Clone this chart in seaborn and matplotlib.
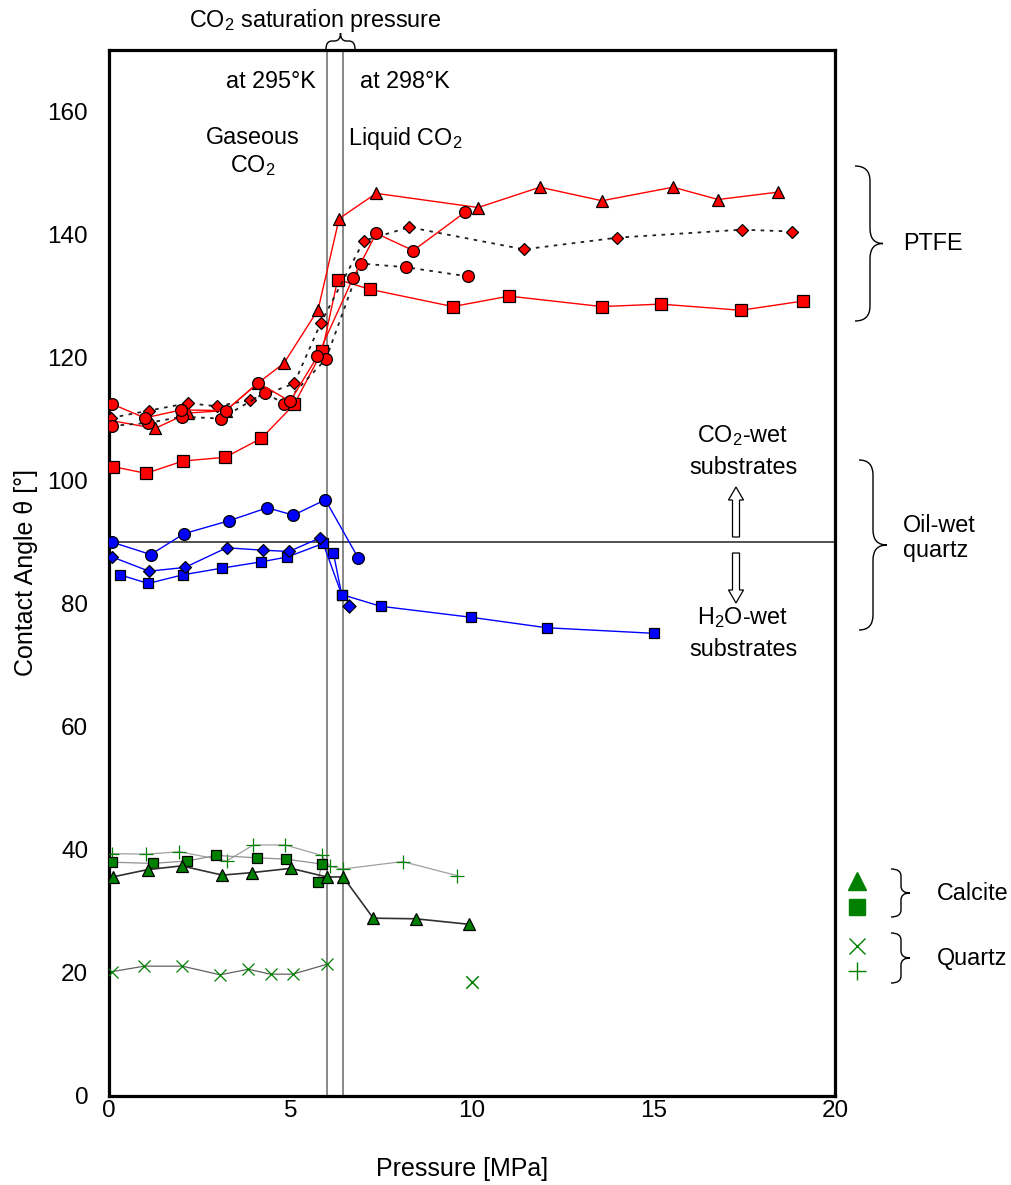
import numpy as np
import matplotlib
matplotlib.use("Agg")
import matplotlib.pyplot as plt
import seaborn as sns
from matplotlib.path import Path
from matplotlib.patches import PathPatch, FancyArrow
from matplotlib.transforms import Affine2D
from matplotlib.lines import Line2D

# ---------------- data: pressure [MPa] and contact angle [deg] ----------------
# PTFE
ptfe_tri_p = [0.03, 1.27, 2.18, 3.22, 4.11, 4.82, 5.76, 6.34, 7.36, 10.17, 11.87, 13.58, 15.54, 16.78, 18.43]
ptfe_tri_a = [109.8, 108.5, 111.0, 111.4, 115.9, 119.1, 127.8, 142.6, 146.7, 144.4, 147.7, 145.5, 147.7, 145.7, 146.9]

ptfe_sq_p = [0.10, 1.02, 2.04, 3.20, 4.20, 5.10, 5.87, 6.30, 7.19, 9.47, 11.02, 13.58, 15.20, 17.41, 19.12]
ptfe_sq_a = [102.3, 101.2, 103.2, 103.8, 106.9, 112.4, 121.0, 132.7, 131.1, 128.3, 130.0, 128.3, 128.7, 127.7, 129.2]

ptfe_dia_p = [0.05, 1.10, 2.17, 2.97, 3.88, 5.10, 5.84, 7.02, 8.27, 11.43, 14.00, 17.44, 18.82]
ptfe_dia_a = [110.2, 111.4, 112.6, 112.1, 113.1, 115.8, 125.7, 139.0, 141.2, 137.6, 139.5, 140.8, 140.5]

ptfe_circ1_p = [0.07, 0.99, 1.98, 3.22, 4.11, 4.99, 5.74, 6.72, 7.36, 8.38, 9.80]
ptfe_circ1_a = [112.5, 110.2, 111.5, 111.4, 115.9, 112.9, 120.2, 132.9, 140.2, 137.4, 143.6]

ptfe_circ2_p = [0.07, 1.08, 2.02, 3.08, 4.30, 4.82, 5.98, 6.93, 8.18, 9.89]
ptfe_circ2_a = [108.9, 109.4, 110.4, 110.1, 114.3, 112.5, 119.8, 135.3, 134.7, 133.2]

# Oil-wet quartz
oq_circ_p = [0.09, 1.15, 2.07, 3.31, 4.36, 5.08, 5.96, 6.86]
oq_circ_a = [90.0, 88.0, 91.4, 93.5, 95.6, 94.4, 96.9, 87.5]

oq_dia_p = [0.09, 1.10, 2.09, 3.24, 4.25, 4.96, 5.81, 6.62]
oq_dia_a = [87.6, 85.3, 85.9, 89.1, 88.7, 88.5, 90.7, 79.6]

oq_sq_p = [0.30, 1.08, 2.03, 3.12, 4.18, 4.91, 5.90, 6.41, 7.48, 9.98, 12.06, 15.00]
oq_sq_a = [84.7, 83.3, 84.7, 85.8, 86.8, 87.6, 89.8, 81.5, 79.6, 77.8, 76.1, 75.2]

oq_sq2_p = [6.18, 6.41]
oq_sq2_a = [88.3, 81.5]

# Calcite
calc_tri_p = [0.10, 1.07, 2.00, 3.12, 3.93, 5.01, 6.00, 6.45, 7.28, 8.45, 9.93]
calc_tri_a = [35.6, 36.8, 37.4, 35.9, 36.3, 37.0, 35.6, 35.6, 28.9, 28.8, 27.9]

calc_sq_p = [0.07, 1.20, 2.16, 2.95, 4.09, 4.87, 5.86, 5.75]
calc_sq_a = [38.0, 37.8, 38.2, 39.1, 38.7, 38.5, 37.7, 34.8]

# Quartz
qz_x_p = [0.07, 0.97, 2.02, 3.06, 3.84, 4.45, 5.06, 6.00, 9.99]
qz_x_a = [20.2, 21.1, 21.1, 19.7, 20.6, 19.8, 19.8, 21.4, 18.6]

qz_plus_p = [0.07, 1.02, 1.94, 3.24, 3.98, 4.85, 5.86, 6.09, 6.45, 8.09, 9.60]
qz_plus_a = [39.4, 39.3, 39.7, 38.2, 40.8, 40.8, 39.1, 37.3, 36.9, 38.1, 35.8]

# CO2 saturation pressures at 295 K and 298 K, and the 90 deg divide
sat_pressures = [6.0, 6.45]
neutral_angle = 90

x_ticks = [0, 5, 10, 15, 20]
y_ticks = [0, 20, 40, 60, 80, 100, 120, 140, 160]

# ---------------- style ----------------
sns.set_theme(style="white")
plt.rcParams["font.family"] = ["Liberation Sans", "DejaVu Sans"]
plt.rcParams["mathtext.fontset"] = "custom"
plt.rcParams["mathtext.rm"] = "Liberation Sans"
plt.rcParams["mathtext.it"] = "Liberation Sans:italic"
plt.rcParams["mathtext.bf"] = "Liberation Sans:bold"

W, H = 1012, 1185
fig = plt.figure(figsize=(W / 100, H / 100), dpi=100)
fig.patch.set_facecolor("white")
ax = fig.add_axes([109 / W, 1 - 1096 / H, 726 / W, 1046 / H])
ax.set_facecolor("white")

# pixel coordinates (origin top-left) for annotations around the axes
px = Affine2D().scale(1 / W, -1 / H).translate(0, 1) + fig.transFigure

RED, BLUE, GREEN = "#ff0000", "#0000ff", "#008000"


def series(p, a, line_color, marker, ms, face, ls="-", lw=1.0, edge="black", z=3):
    sns.lineplot(x=p, y=a, ax=ax, sort=False, estimator=None, legend=False,
                 color=line_color, lw=lw, linestyle=ls, marker=marker, ms=ms,
                 mfc=face, mec=edge, mew=0.9, zorder=z)


# reference lines
for sp in sat_pressures:
    ax.axvline(sp, color="#7f7f7f", lw=1.3, zorder=1)
ax.axhline(neutral_angle, color="#202020", lw=1.1, zorder=1)

# calcite and quartz
series(qz_x_p[:-1], qz_x_a[:-1], "#606060", "x", 9, GREEN, lw=0.9, edge=GREEN)
sns.scatterplot(x=qz_x_p[-1:], y=qz_x_a[-1:], ax=ax, marker="x", s=80,
                color=GREEN, linewidth=1.1, legend=False, zorder=3)
series(qz_plus_p, qz_plus_a, "#a0a0a0", "+", 10, GREEN, lw=0.9, edge=GREEN)
series(calc_sq_p, calc_sq_a, "#909090", "s", 7.5, GREEN, lw=0.9)
series(calc_tri_p, calc_tri_a, "#303030", "^", 8.5, GREEN, lw=1.2)

# oil-wet quartz
series(oq_sq2_p, oq_sq2_a, BLUE, "s", 7, BLUE, lw=1.0)
series(oq_sq_p, oq_sq_a, BLUE, "s", 7, BLUE, lw=1.0)
series(oq_dia_p[:-1], oq_dia_a[:-1], BLUE, "D", 6.5, BLUE, lw=1.0)
sns.scatterplot(x=oq_dia_p[-1:], y=oq_dia_a[-1:], ax=ax, marker="D", s=45,
                color=BLUE, edgecolor="black", linewidth=0.9, legend=False, zorder=3)
series(oq_circ_p, oq_circ_a, BLUE, "o", 8.5, BLUE, lw=1.0)

# PTFE
series(ptfe_tri_p, ptfe_tri_a, RED, "^", 8.5, RED, lw=1.0)
series(ptfe_sq_p, ptfe_sq_a, RED, "s", 8, RED, lw=1.0)
series(ptfe_dia_p, ptfe_dia_a, "#202020", "D", 6.3, RED, ls=(0, (2, 3)), lw=1.3)
series(ptfe_circ2_p, ptfe_circ2_a, "#202020", "o", 8.5, RED, ls=(0, (2, 3)), lw=1.3)
series(ptfe_circ1_p, ptfe_circ1_a, RED, "o", 8.5, RED, lw=1.0)

# axes
ax.set_xlim(0, 20)
ax.set_ylim(0, 170)
ax.set_xticks(x_ticks)
ax.set_yticks(y_ticks)
for s in ax.spines.values():
    s.set_linewidth(2.3)
    s.set_color("black")
ax.tick_params(direction="in", length=6, width=2.3, labelsize=17.5, colors="black")
ax.tick_params(axis="x", pad=3)
ax.tick_params(axis="y", pad=15)
ax.set_xlabel("Pressure [MPa]", fontsize=18, color="black")
ax.set_ylabel("Contact Angle θ [°]", fontsize=18, color="black")
ax.xaxis.set_label_coords(0.486, -0.058)
ax.yaxis.set_label_coords(-0.098, 0.5)


# ---------------- braces, arrows and notes ----------------
def vbrace(x0, y0, y1, xs, xt, r=14, lw=1.0):
    ym = (y0 + y1) / 2
    verts = [(x0, y0), (xs, y0), (xs, y0 + r),
             (xs, ym - r),
             (xs, ym), (xt, ym),
             (xs, ym), (xs, ym + r),
             (xs, y1 - r),
             (xs, y1), (x0, y1)]
    codes = [Path.MOVETO, Path.CURVE3, Path.CURVE3,
             Path.LINETO,
             Path.CURVE3, Path.CURVE3,
             Path.CURVE3, Path.CURVE3,
             Path.LINETO,
             Path.CURVE3, Path.CURVE3]
    fig.add_artist(PathPatch(Path(verts, codes), transform=px, fill=False,
                             ec="black", lw=lw))


def hbrace(x0, x1, y0, ys, yt, r=6, lw=1.0):
    xm = (x0 + x1) / 2
    verts = [(x0, y0), (x0, ys), (x0 + r, ys),
             (xm - r, ys),
             (xm, ys), (xm, yt),
             (xm, ys), (xm + r, ys),
             (x1 - r, ys),
             (x1, ys), (x1, y0)]
    codes = [Path.MOVETO, Path.CURVE3, Path.CURVE3,
             Path.LINETO,
             Path.CURVE3, Path.CURVE3,
             Path.CURVE3, Path.CURVE3,
             Path.LINETO,
             Path.CURVE3, Path.CURVE3]
    fig.add_artist(PathPatch(Path(verts, codes), transform=px, fill=False,
                             ec="black", lw=lw))


def note(x, y, s, ha="center", size=16.8):
    fig.text(x, y, s, transform=px, ha=ha, va="center", fontsize=size,
             color="black", linespacing=1.15)


hbrace(326, 355, 49, 41, 33)
note(315, 20, "CO$_\\mathregular{2}$ saturation pressure")
note(316, 81, "at 295°K", ha="right")
note(360, 81, "at 298°K", ha="left")
note(253, 137, "Gaseous")
note(253, 166, "CO$_\\mathregular{2}$")
note(348, 138, "Liquid CO$_\\mathregular{2}$", ha="left")

note(743, 436, "CO$_\\mathregular{2}$-wet")
note(743, 467, "substrates")
note(743, 618, "H$_\\mathregular{2}$O-wet")
note(743, 649, "substrates")
for y_start, dy in [(537, -50), (553, 50)]:
    fig.add_artist(FancyArrow(736, y_start, 0, dy, width=7, head_width=15,
                              head_length=13, length_includes_head=True,
                              transform=px, fc="white", ec="black", lw=0.9))

vbrace(855, 166, 321, 870, 883, r=15)
note(903, 244, "PTFE", ha="left")
vbrace(859, 460, 630, 873, 887, r=15)
note(903, 538, "Oil-wet\nquartz", ha="left")

vbrace(891, 869, 917, 901, 910, r=7)
note(937, 893, "Calcite", ha="left")
vbrace(891, 933, 983, 901, 910, r=7)
note(937, 958, "Quartz", ha="left")

for y, m, ms, kw in [(881, "^", 13, {}), (907, "s", 12, {}),
                     (946, "x", 12, {"mew": 1.0}), (971, "+", 13, {"mew": 1.0})]:
    fig.add_artist(Line2D([857], [y], transform=px, marker=m, ms=ms, color=GREEN,
                          mec=GREEN, ls="none", **kw))

fig.savefig("out.png", dpi=100, facecolor="white")
